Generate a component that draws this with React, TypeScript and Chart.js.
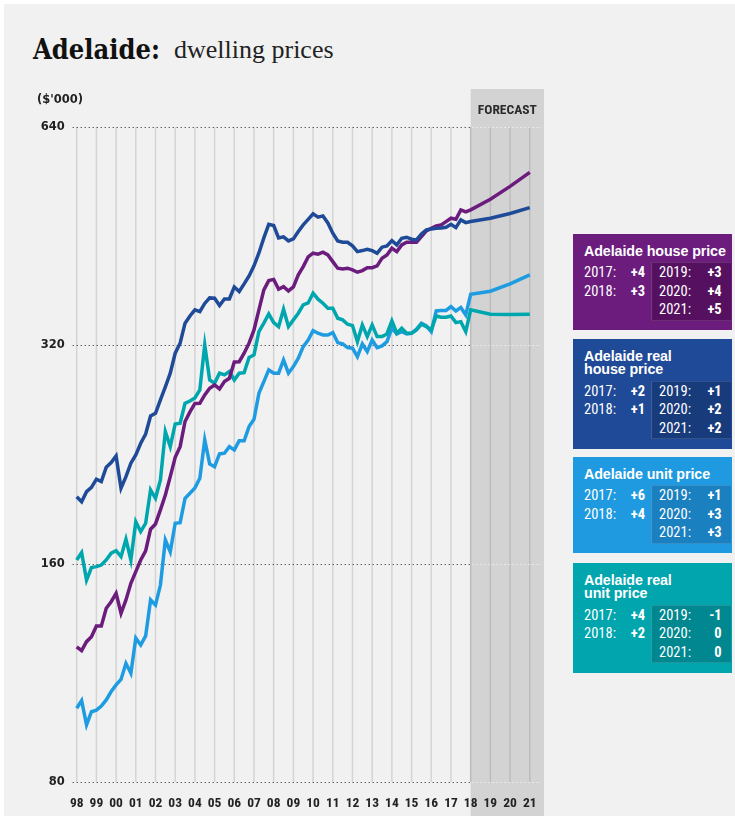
import React, { useEffect, useRef } from "react";
import { Chart, registerables } from "chart.js";

Chart.register(...registerables);

// ---------- data ----------
const START_YEAR = 1998; // first quarterly observation (Q1 1998)
const FORECAST_START = 2018;
const yearTicks = [1998, 1999, 2000, 2001, 2002, 2003, 2004, 2005, 2006, 2007, 2008, 2009, 2010, 2011, 2012, 2013, 2014, 2015, 2016, 2017, 2018, 2019, 2020, 2021];
const yTicks = [80, 160, 320, 640];
const forecastYears = [2019, 2020, 2021];

// Adelaide house price ($'000), quarterly 1998 Q1 - 2018 Q1
const houseHist = [
  122.9, 121.4, 124.9, 126.9, 131.3, 131.3, 138.9, 141.8, 145.6, 136.7,
  142.6, 150.3, 156.0, 161.9, 166.6, 178.5, 181.5, 189.8, 199.0, 210.9,
  224.3, 232.0, 251.3, 259.0, 266.1, 266.2, 273.4, 279.3, 282.2, 278.6,
  285.2, 288.2, 303.6, 303.8, 312.1, 322.2, 336.0, 358.1, 381.6, 393.0,
  394.5, 382.4, 385.6, 380.3, 385.2, 400.2, 410.9, 423.7, 428.7, 427.4,
  430.1, 426.4, 417.4, 408.8, 407.9, 408.8, 406.6, 403.6, 405.7, 409.5,
  409.5, 411.8, 422.0, 426.4, 435.6, 430.9, 440.2, 443.9, 443.9, 443.9,
  451.9, 460.2, 464.1, 467.5, 469.0, 474.0, 479.1, 477.6, 491.9, 488.8,
  491.9,
];
const houseFcst = [508.9, 530.0, 554.1];

// Adelaide real house price
const realHouseHist = [
  197.9, 194.8, 201.1, 203.9, 209.2, 207.6, 217.3, 220.5, 225.2, 203.3,
  210.9, 220.1, 226.0, 234.5, 241.5, 255.7, 257.9, 269.1, 280.4, 292.9,
  312.1, 322.2, 343.3, 351.3, 358.1, 356.2, 365.5, 372.0, 371.6, 363.2,
  370.8, 370.8, 385.2, 379.7, 388.9, 398.9, 411.8, 429.1, 450.0, 469.8,
  468.0, 450.0, 451.5, 445.8, 448.6, 459.4, 469.0, 477.3, 485.7, 480.6,
  482.6, 472.0, 456.8, 445.8, 443.9, 443.9, 438.8, 430.9, 432.3, 434.2,
  432.3, 428.7, 437.0, 438.8, 446.2, 440.2, 449.6, 451.0, 448.2, 447.2,
  455.8, 461.6, 463.1, 463.9, 464.6, 465.6, 470.0, 465.0, 476.5, 472.4,
  474.0,
];
const realHouseFcst = [479.1, 486.4, 495.5];

// Adelaide unit price
const unitHist = [
  101.1, 103.6, 95.9, 100.0, 100.5, 101.8, 103.8, 106.6, 108.9, 110.8,
  116.6, 113.0, 126.3, 123.6, 127.2, 142.6, 140.3, 149.5, 172.5, 166.2,
  181.9, 182.2, 196.9, 200.1, 203.5, 209.8, 237.0, 219.6, 217.7, 226.7,
  227.2, 232.0, 229.6, 236.4, 236.4, 247.2, 253.1, 274.8, 285.2, 296.0,
  292.9, 292.9, 305.5, 292.9, 299.1, 307.2, 318.7, 325.5, 335.3, 332.5,
  330.7, 330.7, 333.2, 322.8, 321.4, 317.7, 317.1, 308.7, 321.4, 313.7,
  325.5, 317.7, 319.4, 323.8, 337.9, 331.8, 334.2, 331.8, 332.5, 336.8,
  343.3, 340.4, 334.2, 356.9, 357.5, 357.5, 361.9, 356.9, 360.9, 352.4,
  376.4,
];
const unitFcst = [380.0, 388.9, 400.2];

// Adelaide real unit price
const realUnitHist = [
  161.9, 165.7, 151.9, 158.0, 158.5, 159.3, 161.9, 165.4, 166.7, 163.6,
  172.9, 161.9, 182.8, 177.1, 181.9, 202.2, 196.9, 208.7, 243.3, 232.0,
  249.3, 249.9, 266.2, 268.2, 270.8, 277.8, 320.4, 286.7, 283.7, 292.9,
  291.3, 294.4, 286.7, 292.9, 293.4, 307.8, 310.4, 334.2, 343.3, 353.5,
  343.9, 339.6, 358.9, 339.6, 346.9, 354.3, 363.8, 366.1, 377.6, 370.5,
  365.8, 360.0, 360.0, 348.7, 346.9, 342.2, 340.7, 323.8, 341.4, 329.0,
  341.4, 329.0, 329.0, 331.8, 345.8, 332.5, 337.9, 332.5, 332.5, 336.0,
  342.2, 339.6, 336.0, 351.3, 349.9, 349.9, 351.3, 343.9, 345.0, 334.2,
  358.1,
];
const realUnitFcst = [353.2, 353.0, 353.2];

// Annual % change boxes
const changeYears = ["2017:", "2018:", "2019:", "2020:", "2021:"];
const houseChanges = ["+4", "+3", "+3", "+4", "+5"];
const realHouseChanges = ["+2", "+1", "+1", "+2", "+2"];
const unitChanges = ["+6", "+4", "+1", "+3", "+3"];
const realUnitChanges = ["+4", "+2", "-1", "0", "0"];

// ---------- styles ----------
const C_HOUSE = "#6b1c7d";
const C_REAL_HOUSE = "#1f4a97";
const C_UNIT = "#1f9ce1";
const C_REAL_UNIT = "#00a6ae";

const NARROW = '"Liberation Sans Narrow", "Arial Narrow", "Roboto Condensed", sans-serif';
const SANS = '"Liberation Sans", Arial, sans-serif';
const TICK = '"DejaVu Sans", sans-serif';

function toPoints(hist: number[], fcst: number[]) {
  const pts = hist.map((v, i) => ({ x: START_YEAR + i / 4, y: v }));
  fcst.forEach((v, i) => pts.push({ x: forecastYears[i], y: v }));
  return pts;
}

const backdropPlugin = {
  id: "backdrop",
  beforeDraw(chart: any) {
    const { ctx, chartArea, scales } = chart;
    const x0 = scales.x.getPixelForValue(FORECAST_START);
    const x1 = chartArea.right + 3;
    ctx.save();
    ctx.fillStyle = "#d3d3d3";
    ctx.fillRect(x0, 9, x1 - x0, chart.height - 9);
    ctx.fillStyle = "#2b2b2b";
    ctx.font = `bold 13.5px ${NARROW}`;
    ctx.textAlign = "center";
    ctx.textBaseline = "alphabetic";
    ctx.fillText("FORECAST", (x0 + x1) / 2, 34);
    ctx.restore();
  },
  beforeDatasetsDraw(chart: any) {
    const { ctx, chartArea, scales } = chart;
    const { left, right, top, bottom } = chartArea;
    const x0 = scales.x.getPixelForValue(FORECAST_START);
    ctx.save();
    ctx.lineWidth = 1.5;
    for (const yr of yearTicks) {
      const px = scales.x.getPixelForValue(yr);
      ctx.strokeStyle = yr >= FORECAST_START ? "#bcbcbc" : "#d4d4d4";
      ctx.beginPath();
      ctx.moveTo(px, top);
      ctx.lineTo(px, bottom);
      ctx.stroke();
    }
    ctx.lineWidth = 1;
    ctx.setLineDash([1, 3]);
    for (const v of yTicks) {
      const py = Math.round(scales.y.getPixelForValue(v)) + 0.5;
      ctx.strokeStyle = "#222";
      ctx.beginPath();
      ctx.moveTo(left, py);
      ctx.lineTo(x0, py);
      ctx.stroke();
      ctx.strokeStyle = "#ffffff";
      ctx.beginPath();
      ctx.moveTo(x0 + 2, py);
      ctx.lineTo(right, py);
      ctx.stroke();
    }
    ctx.restore();
  },
};

function ChangeBox(props: {
  top: number;
  color: string;
  dark: string;
  title: string[];
  values: string[];
}) {
  const { top, color, dark, title, values } = props;
  const innerTop = 28 + 13.5 * (title.length - 1);
  const innerH = 58.5;
  const height = innerTop + innerH + 9.5;
  const rowBase = [15.7, 34, 52.3];
  const rowText = (base: number) => base - 12.3;
  const labelStyle: React.CSSProperties = {
    position: "absolute",
    fontFamily: NARROW,
    fontSize: 14.5,
    lineHeight: "15px",
    color: "#fff",
    whiteSpace: "nowrap",
  };
  const valueStyle: React.CSSProperties = { ...labelStyle, fontWeight: 700, textAlign: "right" };
  return (
    <div
      style={{
        position: "absolute",
        left: 573,
        top,
        width: 159,
        height,
        background: color,
      }}
    >
      {title.map((t, i) => (
        <div
          key={t}
          style={{
            position: "absolute",
            left: 11,
            top: 21.5 + 13.5 * i - 11.9,
            fontFamily: SANS,
            fontWeight: 700,
            fontSize: 14.3,
            lineHeight: "14px",
            color: "#fff",
            whiteSpace: "nowrap",
            letterSpacing: -0.1,
          }}
        >
          {t}
        </div>
      ))}
      <div
        style={{
          position: "absolute",
          left: 78,
          top: innerTop,
          width: 80,
          height: innerH,
          background: dark,
          borderLeft: "1px solid rgba(255,255,255,0.18)",
          borderTop: "1px solid rgba(255,255,255,0.12)",
          borderBottom: "1px solid rgba(255,255,255,0.12)",
          boxSizing: "border-box",
        }}
      />
      {[0, 1].map((r) => (
        <React.Fragment key={"l" + r}>
          <div style={{ ...labelStyle, left: 11, top: innerTop + rowText(rowBase[r]) }}>{changeYears[r]}</div>
          <div style={{ ...valueStyle, left: 40, width: 32, top: innerTop + rowText(rowBase[r]) }}>{values[r]}</div>
        </React.Fragment>
      ))}
      {[0, 1, 2].map((r) => (
        <React.Fragment key={"r" + r}>
          <div style={{ ...labelStyle, left: 86, top: innerTop + rowText(rowBase[r]) }}>{changeYears[r + 2]}</div>
          <div style={{ ...valueStyle, left: 118, width: 30.7, top: innerTop + rowText(rowBase[r]) }}>{values[r + 2]}</div>
        </React.Fragment>
      ))}
    </div>
  );
}

export default function App() {
  const canvasRef = useRef<HTMLCanvasElement>(null);

  useEffect(() => {
    const canvas = canvasRef.current;
    if (!canvas) return;
    const ds = (label: string, color: string, hist: number[], fcst: number[]) => ({
      label,
      data: toPoints(hist, fcst),
      borderColor: color,
      backgroundColor: color,
      borderWidth: 3.5,
      pointRadius: 0,
      fill: false,
      tension: 0,
    });
    const chart = new Chart(canvas, {
      type: "line",
      data: {
        datasets: [
          ds("Adelaide real house price", C_REAL_HOUSE, realHouseHist, realHouseFcst),
          ds("Adelaide house price", C_HOUSE, houseHist, houseFcst),
          ds("Adelaide real unit price", C_REAL_UNIT, realUnitHist, realUnitFcst),
          ds("Adelaide unit price", C_UNIT, unitHist, unitFcst),
        ],
      },
      options: {
        animation: false,
        responsive: false,
        events: [],
        layout: { padding: { top: 47, right: 19, left: 0, bottom: 0 } },
        plugins: { legend: { display: false }, tooltip: { enabled: false } },
        scales: {
          x: {
            type: "linear",
            min: 1997.797,
            max: 2021.57,
            afterBuildTicks: (s: any) => {
              s.ticks = yearTicks.map((v) => ({ value: v }));
            },
            afterFit: (s: any) => {
              s.height = 34;
            },
            grid: { display: false, drawTicks: false },
            border: { display: false },
            ticks: {
              autoSkip: false,
              maxRotation: 0,
              minRotation: 0,
              padding: 14,
              color: "#222",
              font: { family: NARROW, size: 13.5, weight: "bold" },
              callback: (v: any) => String(Number(v) % 100).padStart(2, "0"),
            },
          },
          y: {
            type: "logarithmic",
            min: 80,
            max: 640,
            afterBuildTicks: (s: any) => {
              s.ticks = yTicks.map((v) => ({ value: v }));
            },
            afterFit: (s: any) => {
              s.width = 72.7;
            },
            grid: { display: false, drawTicks: false },
            border: { display: false },
            ticks: {
              padding: 8,
              color: "#222",
              font: { family: TICK, size: 11.5, weight: "bold" },
              callback: (v: any) => String(v),
            },
          },
        },
      },
      plugins: [backdropPlugin],
    } as any);
    return () => chart.destroy();
  }, []);

  return (
    <div style={{ position: "absolute", left: 0, top: 0, width: 735, height: 816, background: "#fff", overflow: "hidden" }}>
      <div style={{ position: "absolute", left: 4, top: 4, right: 0, bottom: 0, background: "#f1f1f1" }} />
      <canvas
        ref={canvasRef}
        width={560}
        height={736}
        style={{ position: "absolute", left: 0, top: 80, width: 560, height: 736 }}
      />
      <div
        style={{
          position: "absolute",
          left: 33,
          top: 34.5,
          fontFamily: '"DejaVu Serif Condensed", "DejaVu Serif", serif',
          fontStretch: "condensed",
          fontWeight: 700,
          fontSize: 27,
          lineHeight: "30px",
          color: "#111",
          whiteSpace: "nowrap",
        }}
      >
        Adelaide:
      </div>
      <div
        style={{
          position: "absolute",
          left: 174,
          top: 36,
          fontFamily: '"Liberation Serif", serif',
          fontSize: 26,
          lineHeight: "28px",
          color: "#222",
          whiteSpace: "nowrap",
        }}
      >
        dwelling prices
      </div>
      <div
        style={{
          position: "absolute",
          left: 37,
          top: 91.6,
          fontFamily: TICK,
          fontWeight: 700,
          fontSize: 11.5,
          lineHeight: "14px",
          color: "#222",
          whiteSpace: "nowrap",
        }}
      >
        ($'000)
      </div>
      <ChangeBox top={234} color="#6b1c7d" dark="#55115f" title={["Adelaide house price"]} values={houseChanges} />
      <ChangeBox top={339} color="#1f4a97" dark="#183b7c" title={["Adelaide real", "house price"]} values={realHouseChanges} />
      <ChangeBox top={457} color="#1f9ae0" dark="#1a80c0" title={["Adelaide unit price"]} values={unitChanges} />
      <ChangeBox top={563} color="#00a5ae" dark="#00878f" title={["Adelaide real", "unit price"]} values={realUnitChanges} />
    </div>
  );
}
